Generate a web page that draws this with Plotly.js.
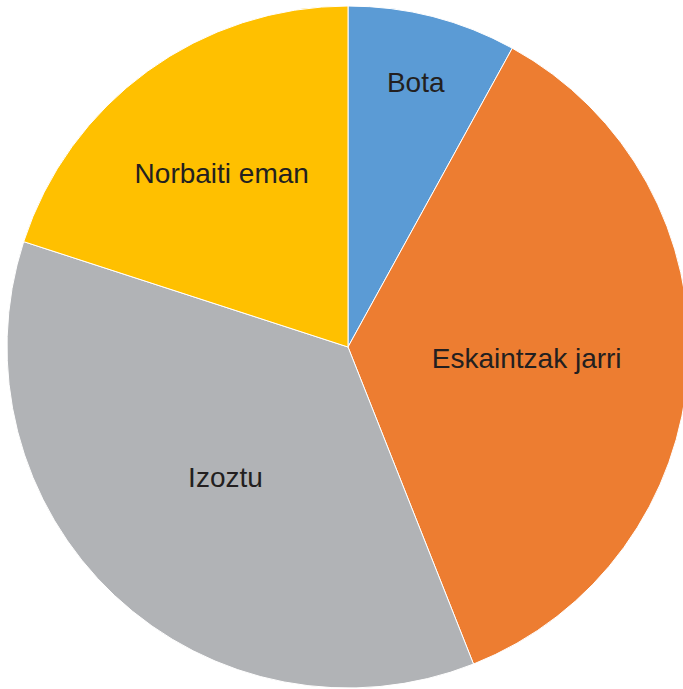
<!DOCTYPE html>
<html>
<head>
<meta charset="utf-8">
<script src="https://cdn.plot.ly/plotly-3.0.1.min.js"></script>
<style>
html, body { margin: 0; padding: 0; overflow: hidden; background: #fff; }
#chart { width: 690px; height: 689px; }
</style>
</head>
<body>
<div id="chart"></div>
<script>
const labels = ["Bota", "Eskaintzak jarri", "Izoztu", "Norbaiti eman"];
const values = [8, 36, 36, 20];
const colors = ["#5B9BD5", "#ED7D31", "#B1B3B6", "#FFC000"];

Plotly.newPlot("chart", [{
  type: "pie",
  labels: labels,
  values: values,
  sort: false,
  direction: "clockwise",
  rotation: 0,
  marker: { colors: colors, line: { color: "#ffffff", width: 1 } },
  textinfo: "label",
  textposition: "inside",
  insidetextorientation: "horizontal",
  textfont: { family: "Liberation Sans, Arial, sans-serif", size: 28, color: "#231F20" },
  hoverinfo: "none"
}], {
  width: 690,
  height: 689,
  margin: { l: 7, r: 1, t: 6, b: 1 },
  showlegend: false,
  paper_bgcolor: "#ffffff",
  plot_bgcolor: "#ffffff"
}, { displayModeBar: false, staticPlot: true });
</script>
</body>
</html>
